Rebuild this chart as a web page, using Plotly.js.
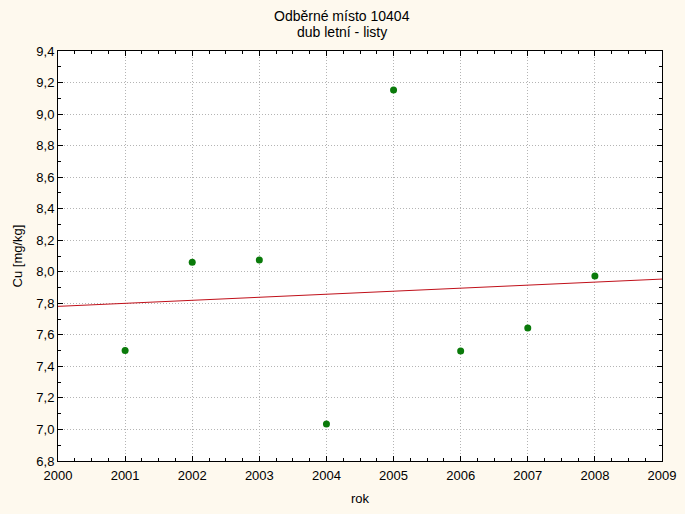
<!DOCTYPE html>
<html>
<head>
<meta charset="utf-8">
<script src="https://cdn.plot.ly/plotly-3.0.1.min.js"></script>
<style>html,body{margin:0;padding:0;background:#FEF9EE;}</style>
</head>
<body>
<div id="chart" style="width:685px;height:514px;"></div>
<script>
const years = [2001, 2002, 2003, 2004, 2005, 2006, 2007, 2008];
const cu = [7.50, 8.06, 8.075, 7.035, 9.153, 7.497, 7.644, 7.973];
const titleLines = ["Odběrné místo 10404", "dub letní - listy"];
const yTitle = "Cu [mg/kg]";
const xTitle = "rok";

// least-squares fit line from the data
const n = years.length;
const mx = years.reduce((a, b) => a + b, 0) / n;
const my = cu.reduce((a, b) => a + b, 0) / n;
let sxy = 0, sxx = 0;
for (let i = 0; i < n; i++) { sxy += (years[i] - mx) * (cu[i] - my); sxx += (years[i] - mx) ** 2; }
const slope = sxy / sxx, icpt = my - slope * mx;
const fitX = [2000, 2009];
const fitY = fitX.map(x => icpt + slope * x);

const font = {family: "Liberation Sans, Arial, sans-serif", size: 13, color: "#000"};
const titleFont = {family: font.family, size: 14, color: "#000"};
const axisCommon = {
  showline: true, linecolor: "#000", linewidth: 1, mirror: "ticks",
  ticks: "inside", ticklen: 5, tickcolor: "#000", tickwidth: 1,
  showgrid: true, gridcolor: "#B4B4B4", griddash: "1px,2px", gridwidth: 1,
  zeroline: false, tickfont: font
};
const data = [
  {x: fitX, y: fitY, type: "scatter", mode: "lines", line: {color: "#C0101A", width: 1}, hoverinfo: "skip"},
  {x: years, y: cu, type: "scatter", mode: "markers", marker: {color: "#0A7A0A", size: 7}}
];
const layout = {
  width: 685, height: 514,
  paper_bgcolor: "#FEF9EE", plot_bgcolor: "#FFFFFF",
  separators: ", ",
  showlegend: false,
  font: font,
  margin: {l: 58, r: 23, t: 51, b: 53},
  annotations: [
    {text: titleLines[0], xref: "paper", yref: "paper", x: 0.47, y: 1, xanchor: "center", yanchor: "bottom", yshift: 25, showarrow: false, font: titleFont},
    {text: titleLines[1], xref: "paper", yref: "paper", x: 0.47, y: 1, xanchor: "center", yanchor: "bottom", yshift: 9, showarrow: false, font: titleFont}
  ],
  xaxis: Object.assign({}, axisCommon, {
    range: [2000, 2009], dtick: 1, tick0: 2000, tickformat: "d", ticklabelstandoff: 2,
    minor: {ticks: "inside", dtick: 0.25, ticklen: 3, tickcolor: "#000", showgrid: false},
    title: {text: xTitle, font: font, standoff: 12}
  }),
  yaxis: Object.assign({}, axisCommon, {
    range: [6.8, 9.4], dtick: 0.2, tick0: 6.8, tickformat: ".1f",
    minor: {ticks: "inside", dtick: 0.1, ticklen: 3, tickcolor: "#000", showgrid: false},
    title: {text: yTitle, font: font, standoff: 10}
  })
};
Plotly.newPlot("chart", data, layout, {displayModeBar: false, staticPlot: true});
</script>
</body>
</html>
